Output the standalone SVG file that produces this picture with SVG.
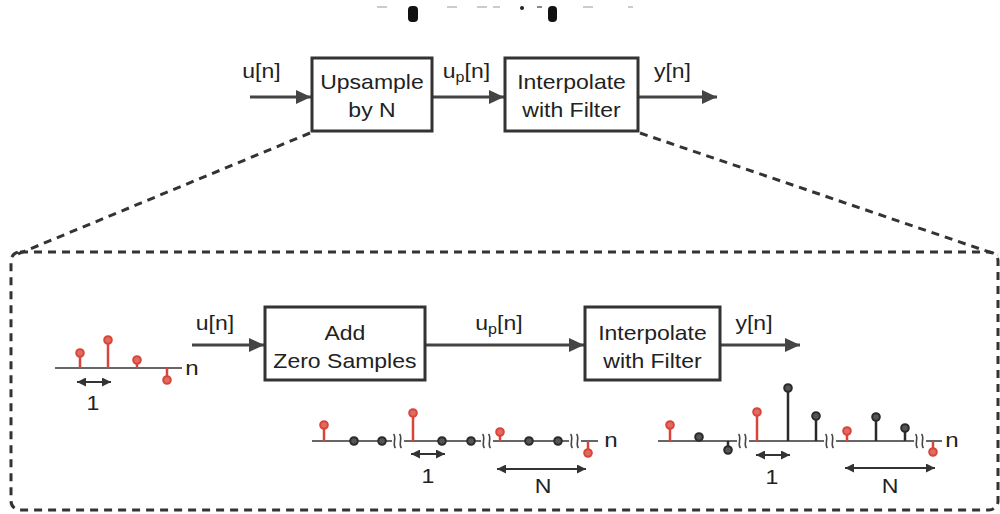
<svg xmlns="http://www.w3.org/2000/svg" width="1000" height="514" viewBox="0 0 1000 514">
  <style>
    .box { fill: #fff; stroke: #333; stroke-width: 3; }
    .arr { stroke: #444; stroke-width: 3; fill: none; marker-end: url(#head); }
    .dash { stroke: #333; stroke-width: 3; fill: none; stroke-dasharray: 8 6; }
    .lbl { font-family: "Liberation Sans", Arial, sans-serif; font-size: 20px; fill: #222; text-anchor: middle; }
    .sub { font-size: 14px; }
    .big { font-size: 21px; }
    .axis { stroke: #666; stroke-width: 2; fill: none; }
    .rs { stroke: #d8453b; stroke-width: 2.5; }
    .bs { stroke: #2a2a2a; stroke-width: 2.5; }
    .rc { fill: #e26b61; stroke: #d8453b; stroke-width: 2; }
    .bc { fill: #555; stroke: #2a2a2a; stroke-width: 2; }
    .dbl { stroke: #333; stroke-width: 2; marker-start: url(#tip); marker-end: url(#tip); }
    .sq { stroke: #444; stroke-width: 1.6; fill: none; }
    .frag { fill: #ccc; }
  </style>
  <defs>
    <marker id="head" viewBox="0 0 15 14" refX="15" refY="7" markerWidth="15" markerHeight="14" markerUnits="userSpaceOnUse" orient="auto">
      <path d="M0,0 L15,7 L0,14 z" fill="#444"/>
    </marker>
    <marker id="tip" viewBox="0 0 9 9" refX="9" refY="4.5" markerWidth="9" markerHeight="9" markerUnits="userSpaceOnUse" orient="auto-start-reverse">
      <path d="M0,0 L9,4.5 L0,9 z" fill="#333"/>
    </marker>
    <g id="squig">
      <rect x="-6" y="-3" width="12" height="6" fill="#fff"/>
      <path class="sq" d="M-4.5,-7 C-1,-3.5 -6,3.5 -2.5,7 M1.5,-7 C5,-3.5 0,3.5 3.5,7"/>
    </g>
  </defs>

  <!-- clipped heading fragments along the top edge -->
  <g id="heading-fragments">
    <rect x="408" y="6" width="10" height="16" rx="4" fill="#111"/>
    <rect x="548" y="6" width="9" height="16" rx="4" fill="#111"/>
    <circle cx="522" cy="8" r="2" fill="#222"/>
    <rect class="frag" x="377" y="6" width="10" height="2"/>
    <rect class="frag" x="447" y="6" width="10" height="2"/>
    <rect class="frag" x="477" y="6" width="10" height="2"/>
    <rect class="frag" x="493" y="6" width="7" height="2"/>
    <rect x="537" y="6" width="5" height="2" fill="#888"/>
    <rect class="frag" x="583" y="6" width="10" height="2"/>
    <rect class="frag" x="628" y="6" width="5" height="2"/>
  </g>

  <!-- zoom-out guides and detail frame -->
  <g id="detail-frame">
    <line class="dash" x1="310" y1="133" x2="13" y2="256"/>
    <line class="dash" x1="640" y1="133" x2="998" y2="255"/>
    <rect class="dash" x="11" y="252" width="987" height="258" rx="9"/>
  </g>

  <!-- connectors -->
  <g id="connectors">
    <line class="arr" x1="250" y1="97" x2="311" y2="97"/>
    <line class="arr" x1="432" y1="97" x2="504" y2="97"/>
    <line class="arr" x1="638" y1="97" x2="717" y2="97"/>
    <line class="arr" x1="192" y1="345" x2="264" y2="345"/>
    <line class="arr" x1="425" y1="345" x2="584" y2="345"/>
    <line class="arr" x1="720" y1="345" x2="800" y2="345"/>
  </g>

  <!-- top-level block diagram -->
  <g id="top-labels">
    <text class="lbl" x="261.5" y="78" transform="matrix(1.15 0 0 1 -39.2 0)">u[n]</text>
    <text class="lbl" x="466.5" y="78" transform="matrix(1.15 0 0 1 -70 0)">u<tspan class="sub" dy="4">p</tspan><tspan dy="-4">[n]</tspan></text>
    <text class="lbl" x="672.5" y="78" transform="matrix(1.15 0 0 1 -100.9 0)">y[n]</text>
  </g>
  <g id="upsample">
    <rect class="box" x="312" y="58" width="120" height="73"/>
    <text class="lbl" x="372" y="89" transform="matrix(1.15 0 0 1 -55.8 0)">Upsample</text>
    <text class="lbl" x="372" y="117" transform="matrix(1.15 0 0 1 -55.8 0)">by N</text>
  </g>
  <g id="interpolate-top">
    <rect class="box" x="505" y="58" width="133" height="73"/>
    <text class="lbl" x="571.5" y="89" transform="matrix(1.15 0 0 1 -85.7 0)">Interpolate</text>
    <text class="lbl" x="571.5" y="117" transform="matrix(1.15 0 0 1 -85.7 0)">with Filter</text>
  </g>

  <!-- detailed block diagram -->
  <g id="detail-labels">
    <text class="lbl" x="215" y="330" transform="matrix(1.15 0 0 1 -32.3 0)">u[n]</text>
    <text class="lbl" x="499" y="330" transform="matrix(1.15 0 0 1 -74.9 0)">u<tspan class="sub" dy="4">p</tspan><tspan dy="-4">[n]</tspan></text>
    <text class="lbl" x="754" y="330" transform="matrix(1.15 0 0 1 -113.1 0)">y[n]</text>
  </g>
  <g id="add-zero-samples">
    <rect class="box" x="265" y="307" width="160" height="73"/>
    <text class="lbl" x="345" y="340" transform="matrix(1.15 0 0 1 -51.8 0)">Add</text>
    <text class="lbl" x="345" y="368" transform="matrix(1.15 0 0 1 -51.8 0)">Zero Samples</text>
  </g>
  <g id="interpolate-detail">
    <rect class="box" x="585" y="307" width="135" height="73"/>
    <text class="lbl" x="652.5" y="340" transform="matrix(1.15 0 0 1 -97.9 0)">Interpolate</text>
    <text class="lbl" x="652.5" y="368" transform="matrix(1.15 0 0 1 -97.9 0)">with Filter</text>
  </g>

  <!-- input sequence u[n] -->
  <g id="plot-input">
    <line class="axis" x1="55" y1="368" x2="182" y2="368"/>
    <line class="rs" x1="80" y1="368" x2="80" y2="353"/><circle class="rc" cx="80" cy="353" r="3.8"/>
    <line class="rs" x1="108" y1="368" x2="108" y2="340"/><circle class="rc" cx="108" cy="340" r="3.8"/>
    <line class="rs" x1="137" y1="368" x2="137" y2="360"/><circle class="rc" cx="137" cy="360" r="3.8"/>
    <line class="rs" x1="167" y1="368" x2="167" y2="380"/><circle class="rc" cx="167" cy="380" r="3.8"/>
    <text class="lbl big" x="192" y="375" transform="matrix(1.15 0 0 1 -28.8 0)">n</text>
    <line class="dbl" x1="77" y1="382" x2="111" y2="382"/>
    <text class="lbl big" x="93" y="410" transform="matrix(1.1 0 0 1 -9.3 0)">1</text>
  </g>

  <!-- zero-stuffed sequence up[n] -->
  <g id="plot-upsampled">
    <line class="axis" x1="312" y1="441" x2="598" y2="441"/>
    <use href="#squig" x="398" y="441"/>
    <use href="#squig" x="487" y="441"/>
    <use href="#squig" x="575" y="441"/>
    <line class="rs" x1="324" y1="441" x2="324" y2="425"/><circle class="rc" cx="324" cy="425" r="3.8"/>
    <circle class="bc" cx="354" cy="441" r="3.8"/>
    <circle class="bc" cx="382" cy="441" r="3.8"/>
    <line class="rs" x1="413" y1="441" x2="413" y2="413"/><circle class="rc" cx="413" cy="413" r="3.8"/>
    <circle class="bc" cx="442" cy="441" r="3.8"/>
    <circle class="bc" cx="471" cy="441" r="3.8"/>
    <line class="rs" x1="500" y1="441" x2="500" y2="432"/><circle class="rc" cx="500" cy="432" r="3.8"/>
    <circle class="bc" cx="529" cy="441" r="3.8"/>
    <circle class="bc" cx="558" cy="441" r="3.8"/>
    <line class="rs" x1="588" y1="441" x2="588" y2="453"/><circle class="rc" cx="588" cy="453" r="3.8"/>
    <text class="lbl big" x="611" y="447" transform="matrix(1.15 0 0 1 -91.7 0)">n</text>
    <line class="dbl" x1="411" y1="454" x2="445" y2="454"/>
    <text class="lbl big" x="428" y="483" transform="matrix(1.1 0 0 1 -42.8 0)">1</text>
    <line class="dbl" x1="497" y1="469" x2="586" y2="469"/>
    <text class="lbl big" x="543" y="493" transform="matrix(1.1 0 0 1 -54.3 0)">N</text>
  </g>

  <!-- interpolated sequence y[n] -->
  <g id="plot-output">
    <line class="axis" x1="658" y1="441" x2="942" y2="441"/>
    <use href="#squig" x="743" y="441"/>
    <use href="#squig" x="830" y="441"/>
    <use href="#squig" x="920" y="441"/>
    <line class="rs" x1="670" y1="441" x2="670" y2="425"/><circle class="rc" cx="670" cy="425" r="3.8"/>
    <line class="bs" x1="699" y1="441" x2="699" y2="437"/><circle class="bc" cx="699" cy="437" r="3.8"/>
    <line class="bs" x1="728" y1="441" x2="728" y2="450"/><circle class="bc" cx="728" cy="450" r="3.8"/>
    <line class="rs" x1="757" y1="441" x2="757" y2="412"/><circle class="rc" cx="757" cy="412" r="3.8"/>
    <line class="bs" x1="788" y1="441" x2="788" y2="388"/><circle class="bc" cx="788" cy="388" r="3.8"/>
    <line class="bs" x1="816" y1="441" x2="816" y2="416"/><circle class="bc" cx="816" cy="416" r="3.8"/>
    <line class="rs" x1="847" y1="441" x2="847" y2="431"/><circle class="rc" cx="847" cy="431" r="3.8"/>
    <line class="bs" x1="876" y1="441" x2="876" y2="417"/><circle class="bc" cx="876" cy="417" r="3.8"/>
    <line class="bs" x1="905" y1="441" x2="905" y2="428"/><circle class="bc" cx="905" cy="428" r="3.8"/>
    <line class="rs" x1="933" y1="441" x2="933" y2="452"/><circle class="rc" cx="933" cy="452" r="3.8"/>
    <text class="lbl big" x="952" y="447" transform="matrix(1.15 0 0 1 -142.8 0)">n</text>
    <line class="dbl" x1="756" y1="455" x2="790" y2="455"/>
    <text class="lbl big" x="772" y="484" transform="matrix(1.1 0 0 1 -77.2 0)">1</text>
    <line class="dbl" x1="845" y1="468" x2="935" y2="468"/>
    <text class="lbl big" x="890" y="493" transform="matrix(1.1 0 0 1 -89 0)">N</text>
  </g>
</svg>
